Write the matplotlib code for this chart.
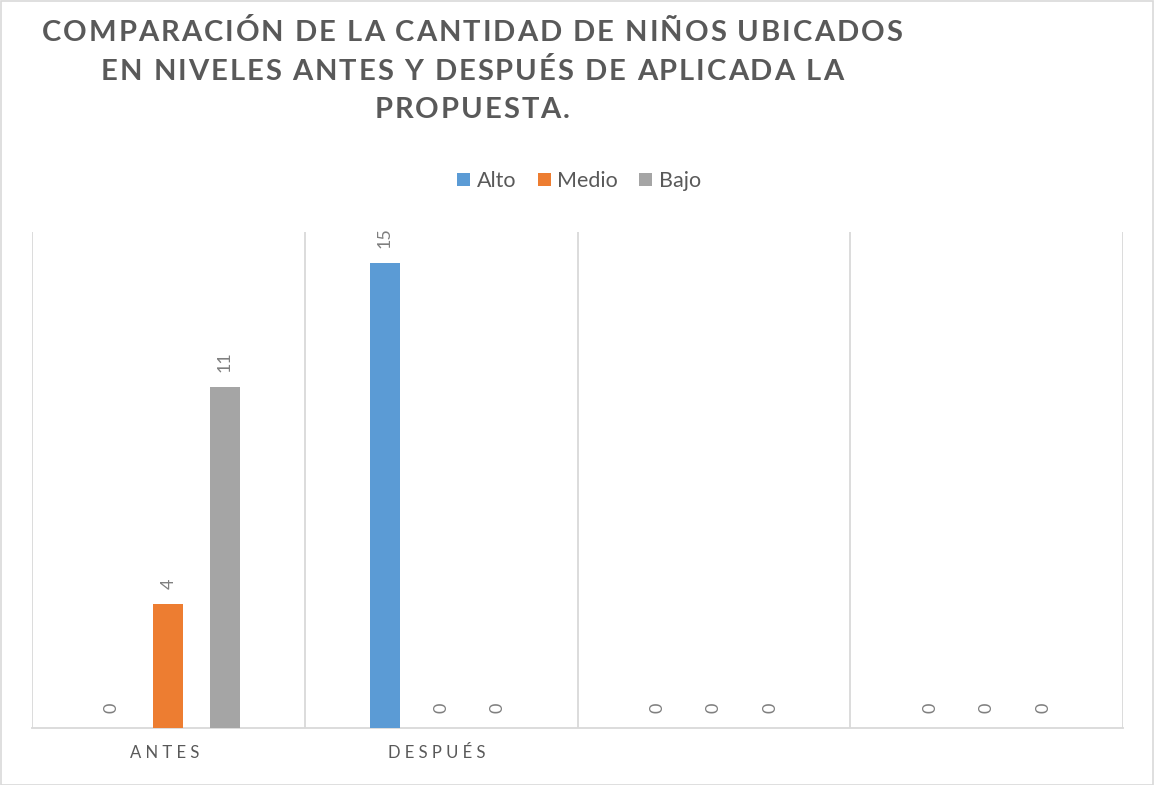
import matplotlib
matplotlib.use("Agg")
import matplotlib.pyplot as plt
from matplotlib.patches import Rectangle
import matplotlib.transforms as mtransforms
import numpy as np

categories = ["ANTES", "DESPUÉS", "", ""]
series = ["Alto", "Medio", "Bajo"]
alto = [0, 15, 0, 0]
medio = [4, 0, 0, 0]
bajo = [11, 0, 0, 0]
colors = ["#5B9BD5", "#ED7D31", "#A5A5A5"]
title_lines = ["COMPARACIÓN DE LA CANTIDAD DE NIÑOS UBICADOS",
               "EN NIVELES ANTES Y DESPUÉS DE APLICADA LA",
               "PROPUESTA."]

W, H = 1154, 785
fig = plt.figure(figsize=(W / 100, H / 100), dpi=100)
fig.patch.set_facecolor("white")
fig.add_artist(Rectangle((0.5 / W, 0.5 / H), 1 - 1.5 / W, 1 - 1.5 / H, transform=fig.transFigure,
                         fill=False, edgecolor="#d9d9d9", linewidth=1.2))

ax = fig.add_axes([32 / W, 1 - 728 / H, (1123 - 32) / W, (728 - 232) / H])
x = np.arange(len(categories))
offsets = [-0.207, 0.0, 0.207]
width = 0.11
label_font = ["Lato", "DejaVu Sans"]
for vals, off, col, name in zip([alto, medio, bajo], offsets, colors, series):
    bars = ax.bar(x + off, vals, width=width, color=col, label=name, zorder=3)
    for b, v in zip(bars, vals):
        ax.annotate(str(v), (b.get_x() + b.get_width() / 2, v), xytext=(0, 10.5),
                    textcoords="offset points", rotation=90, ha="center", va="bottom",
                    fontsize=13, color="#7f7f7f", family=label_font)

ax.set_xlim(-0.5, len(categories) - 0.5)
ax.set_ylim(0, 16)
ax.set_yticks([])
ax.set_xticks(x)
ax.set_xticklabels([" ".join(c) for c in categories], fontsize=12, color="#595959", family=label_font)
ax.tick_params(axis="x", length=0, pad=12)
shift = mtransforms.ScaledTranslation(-4 / 100, 0, fig.dpi_scale_trans)
for lbl in ax.get_xticklabels():
    lbl.set_transform(lbl.get_transform() + shift)
ax.set_xticks(np.arange(-0.5, len(categories), 1.0), minor=True)
ax.tick_params(axis="x", which="minor", length=0)
ax.grid(True, axis="x", which="minor", color="#d9d9d9", linewidth=1.3, zorder=0)
for s in ["top", "left", "right"]:
    ax.spines[s].set_visible(False)
ax.spines["bottom"].set_color("#d9d9d9")
ax.spines["bottom"].set_linewidth(1.3)

leg = fig.legend(loc="center", bbox_to_anchor=(579 / W, 1 - 181 / H), ncol=3, frameon=False,
                 prop={"family": label_font, "size": 15.5}, handlelength=0.6, handleheight=0.6,
                 handletextpad=0.3, columnspacing=1.0)
for t in leg.get_texts():
    t.set_color("#595959")

# Title with letter tracking, drawn character by character
renderer = fig.canvas.get_renderer()
tprops = dict(fontsize=21, fontweight="bold", color="#595959", family=label_font)

def text_width(s):
    t = fig.text(0, 0, s + "|", **tprops)
    w = t.get_window_extent(renderer).width
    t.remove()
    t = fig.text(0, 0, "|", **tprops)
    w -= t.get_window_extent(renderer).width
    t.remove()
    return w

line1 = title_lines[0]
track = (860 - text_width(line1)) / (len(line1) - 1)
center_x = 472
baselines = [41, 80, 118]
for line, base in zip(title_lines, baselines):
    total = text_width(line) + track * (len(line) - 1)
    x0 = center_x - total / 2
    for i, ch in enumerate(line):
        if ch == " ":
            continue
        xi = x0 + text_width(line[:i]) + track * i
        fig.text(xi / W, 1 - base / H, ch, ha="left", va="baseline", **tprops)

fig.savefig("out.png", dpi=100, facecolor="white")
